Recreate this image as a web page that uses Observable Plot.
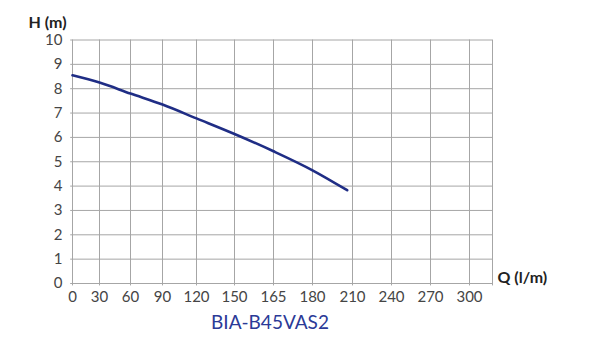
<!DOCTYPE html>
<html>
<head>
<meta charset="utf-8">
<script src="https://cdn.jsdelivr.net/npm/d3@7"></script>
<script src="https://cdn.jsdelivr.net/npm/@observablehq/plot@0.6"></script>
<style>
  body { margin: 0; background: #fff; font-family: Lato, "Open Sans", sans-serif; }
  #chart svg { display: block; }
  #title { width: 540px; margin-top: 5px; text-align: center; color: #2b3a97; font-size: 19px; line-height: 24px; font-family: Lato, sans-serif; }
</style>
</head>
<body>
<div id="chart"></div>
<div id="title">BIA-B45VAS2</div>
<script>
// Data
const qTicks = [0, 30, 60, 90, 120, 150, 165, 180, 210, 240, 270, 300];
const hTicks = [0, 1, 2, 3, 4, 5, 6, 7, 8, 9, 10];
const curveQ = [0, 30, 60, 90, 120, 150, 165, 180, 206];
const curveH = [8.55, 8.25, 7.8, 7.35, 6.78, 6.14, 5.43, 4.65, 3.83];
const qFrameEnd = 315;

// Layout (uneven grid spacing of the original sheet)
const xDomain = [...qTicks, qFrameEnd];
const xRange = [72, 99, 130, 162, 196, 234, 273, 312, 352, 391, 430, 469, 492];

const curve = curveQ.map((q, i) => ({ q, h: curveH[i] }));
const gridColor = "#a6a6a6";

const chart = Plot.plot({
  width: 600,
  height: 305,
  marginTop: 40,
  marginBottom: 22,
  marginLeft: 72,
  marginRight: 108,
  x: { type: "linear", domain: xDomain, range: xRange },
  y: { domain: [0, 10], range: [283, 39.5] },
  style: { fontFamily: "Lato, sans-serif", color: "#454545", background: "white" },
  marks: [
    Plot.ruleX([...qTicks, qFrameEnd], { y1: -0.1, y2: 10, stroke: gridColor, strokeWidth: 1 }),
    Plot.ruleY(hTicks, { x1: -2, x2: qFrameEnd, stroke: gridColor, strokeWidth: 1 }),
    Plot.axisX({ ticks: qTicks, tickSize: 0, tickPadding: 8, fontSize: 15, label: null, tickFormat: d => String(d) }),
    Plot.axisY({ ticks: hTicks, tickSize: 0, tickPadding: 10, fontSize: 15, label: null }),
    Plot.line(curve, { x: "q", y: "h", stroke: "#1f2d85", strokeWidth: 2.6, curve: "monotone-x" }),
    Plot.text(["H (m)"], { frameAnchor: "top-left", dx: -44, dy: -24, textAnchor: "start", fontWeight: "bold", fontSize: 16, fill: "#222" }),
    Plot.text(["Q (l/m)"], { x: qFrameEnd, y: 0, dx: 5, dy: -6, textAnchor: "start", fontWeight: "bold", fontSize: 16, fill: "#222" })
  ]
});
document.getElementById("chart").appendChild(chart);
</script>
</body>
</html>
